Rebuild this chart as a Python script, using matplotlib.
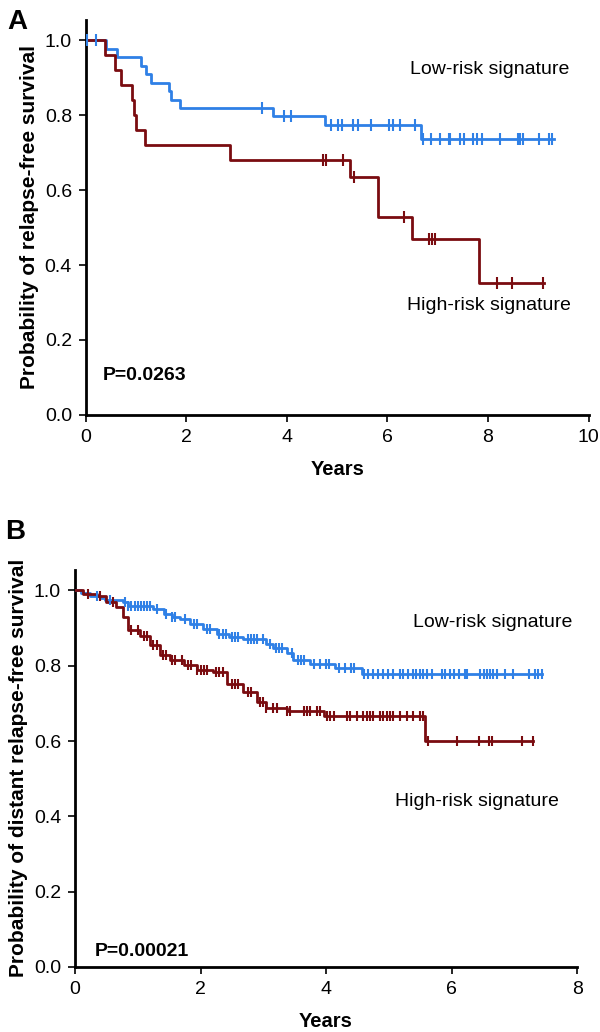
"""
Kaplan-Meier curves, low-risk vs high-risk signature (panels A and B)
"""
import numpy as np
import matplotlib.pyplot as plt

plt.rcParams['font.family'] = ['Liberation Sans', 'DejaVu Sans']

BLUE = '#2f80e6'
RED = '#7a0c10'

# Panel A - relapse-free survival (event times, survival after event)
a_low_t = [0, 0.40, 0.63, 1.09, 1.20, 1.30, 1.65, 1.70, 1.87, 3.72, 4.75, 6.67, 9.32]
a_low_s = [1.0, 0.977, 0.955, 0.932, 0.909, 0.886, 0.864, 0.841, 0.818, 0.797, 0.775, 0.735, 0.735]
a_low_cens = [0.02, 0.20, 3.51, 3.94, 4.08, 4.88, 5.01, 5.10, 5.31, 5.41, 5.67, 6.04, 6.10,
              6.24, 6.54, 6.71, 6.87, 7.04, 7.22, 7.24, 7.44, 7.53, 7.71, 7.78, 7.88, 8.23,
              8.59, 8.64, 8.69, 9.01, 9.22, 9.28]

a_high_t = [0, 0.38, 0.58, 0.71, 0.91, 0.95, 0.99, 1.17, 2.86, 5.26, 5.81, 6.49, 7.82, 9.12]
a_high_s = [1.0, 0.96, 0.92, 0.88, 0.84, 0.80, 0.76, 0.72, 0.68, 0.634, 0.529, 0.47, 0.353, 0.353]
a_high_cens = [4.72, 4.78, 5.11, 5.33, 6.33, 6.83, 6.89, 6.94, 8.18, 8.47, 9.10]

# Panel B - distant relapse-free survival
b_low_t = [0, 0.10, 0.24, 0.40, 0.48, 0.77, 0.85, 1.25, 1.41, 1.55, 1.67, 1.83, 2.04, 2.26,
           2.45, 2.68, 3.05, 3.16, 3.37, 3.48, 3.74, 4.14, 4.57, 7.44]
b_low_s = [1.0, 0.992, 0.986, 0.980, 0.975, 0.970, 0.958, 0.950, 0.937, 0.930, 0.924, 0.910,
           0.897, 0.884, 0.877, 0.870, 0.858, 0.847, 0.833, 0.816, 0.804, 0.793, 0.778, 0.778]
b_low_cens = [0.35, 0.55, 0.80, 0.85, 0.90, 0.95, 1.00, 1.05, 1.10, 1.15, 1.20, 1.30, 1.45,
              1.55, 1.60, 1.75, 1.90, 1.95, 2.10, 2.15, 2.30, 2.35, 2.40, 2.50, 2.55, 2.60,
              2.75, 2.80, 2.85, 2.90, 3.00, 3.10, 3.20, 3.25, 3.30, 3.45, 3.55, 3.60, 3.65,
              3.80, 3.90, 4.00, 4.05, 4.20, 4.30, 4.40, 4.45, 4.60, 4.67, 4.75, 4.83, 4.91,
              4.99, 5.07, 5.18, 5.23, 5.31, 5.39, 5.44, 5.50, 5.55, 5.60, 5.68, 5.84, 5.90,
              5.98, 6.03, 6.11, 6.22, 6.24, 6.45, 6.51, 6.56, 6.61, 6.66, 6.72, 6.85, 6.98,
              7.24, 7.33, 7.38, 7.44]

b_high_t = [0, 0.13, 0.35, 0.50, 0.66, 0.77, 0.85, 1.04, 1.20, 1.35, 1.51, 1.73, 1.94, 2.20,
            2.42, 2.68, 2.90, 3.05, 3.37, 3.96, 5.58, 7.30]
b_high_s = [1.0, 0.991, 0.986, 0.968, 0.955, 0.928, 0.896, 0.878, 0.856, 0.829, 0.815, 0.802,
            0.788, 0.784, 0.752, 0.730, 0.703, 0.689, 0.680, 0.667, 0.599, 0.599]
b_high_cens = [0.20, 0.40, 0.60, 0.90, 1.00, 1.10, 1.15, 1.25, 1.30, 1.40, 1.45, 1.55, 1.60,
               1.70, 1.80, 1.85, 1.95, 2.00, 2.05, 2.10, 2.25, 2.30, 2.35, 2.50, 2.55, 2.60,
               2.75, 2.80, 2.95, 3.00, 3.05, 3.16, 3.21, 3.37, 3.43, 3.64, 3.69, 3.75, 3.85,
               3.90, 4.01, 4.06, 4.12, 4.33, 4.38, 4.49, 4.59, 4.65, 4.70, 4.75, 4.86, 4.91,
               4.97, 5.02, 5.07, 5.18, 5.29, 5.39, 5.50, 5.55, 5.63, 6.08, 6.44, 6.60, 6.64,
               7.12, 7.30]


def km_curve(ax, t, s, cens, color, msize):
    ax.step(t, s, where='post', color=color, lw=2, zorder=3)
    idx = np.searchsorted(t, cens, side='right') - 1
    ax.plot(cens, np.array(s)[idx], ls='none', marker='|', ms=msize, mew=1.5,
            color=color, zorder=4)


def style_axes(ax, xmax, xstep, ylabel):
    ax.set_xlim(0, xmax)
    ax.set_ylim(0, 1.055)
    ax.set_xticks(np.arange(0, xmax + 0.1, xstep))
    ax.set_yticks(np.arange(0, 1.01, 0.2))
    ax.set_yticklabels(['%.1f' % v for v in np.arange(0, 1.01, 0.2)])
    for side in ['top', 'right']:
        ax.spines[side].set_visible(False)
    for side in ['left', 'bottom']:
        ax.spines[side].set_linewidth(2)
    ax.spines['bottom'].set_bounds(0, xmax)
    ax.tick_params(direction='out', length=5, width=1.2, labelsize=14, pad=5)
    ax.set_xlabel('Years', fontsize=14.5, fontweight='bold', labelpad=10)
    ax.set_ylabel(ylabel, fontsize=15, fontweight='bold', labelpad=4)


fig = plt.figure(figsize=(6, 10.32), dpi=100)

# Panel A
axA = fig.add_axes([0.143, 0.598, 0.838, 0.383])
km_curve(axA, a_low_t, a_low_s, a_low_cens, BLUE, 8)
km_curve(axA, a_high_t, a_high_s, a_high_cens, RED, 8)
style_axes(axA, 10, 2, 'Probability of relapse-free survival')
axA.text(8.03, 0.923, 'Low-risk signature', fontsize=14, ha='center', va='center')
axA.text(8.02, 0.293, 'High-risk signature', fontsize=14, ha='center', va='center')
axA.text(0.34, 0.106, 'P=0.0263', fontsize=14, fontweight='bold', va='center')
fig.text(0.012, 0.991, 'A', fontsize=20, fontweight='bold', va='top')

# Panel B
axB = fig.add_axes([0.125, 0.063, 0.837, 0.385])
km_curve(axB, b_low_t, b_low_s, b_low_cens, BLUE, 7)
km_curve(axB, b_high_t, b_high_s, b_high_cens, RED, 7)
style_axes(axB, 8, 2, 'Probability of distant relapse-free survival')
axB.text(6.65, 0.914, 'Low-risk signature', fontsize=14, ha='center', va='center')
axB.text(6.4, 0.44, 'High-risk signature', fontsize=14, ha='center', va='center')
axB.text(0.32, 0.04, 'P=0.00021', fontsize=14, fontweight='bold', va='center')
fig.text(0.008, 0.497, 'B', fontsize=20, fontweight='bold', va='top')

plt.savefig('out.png', dpi=100)
